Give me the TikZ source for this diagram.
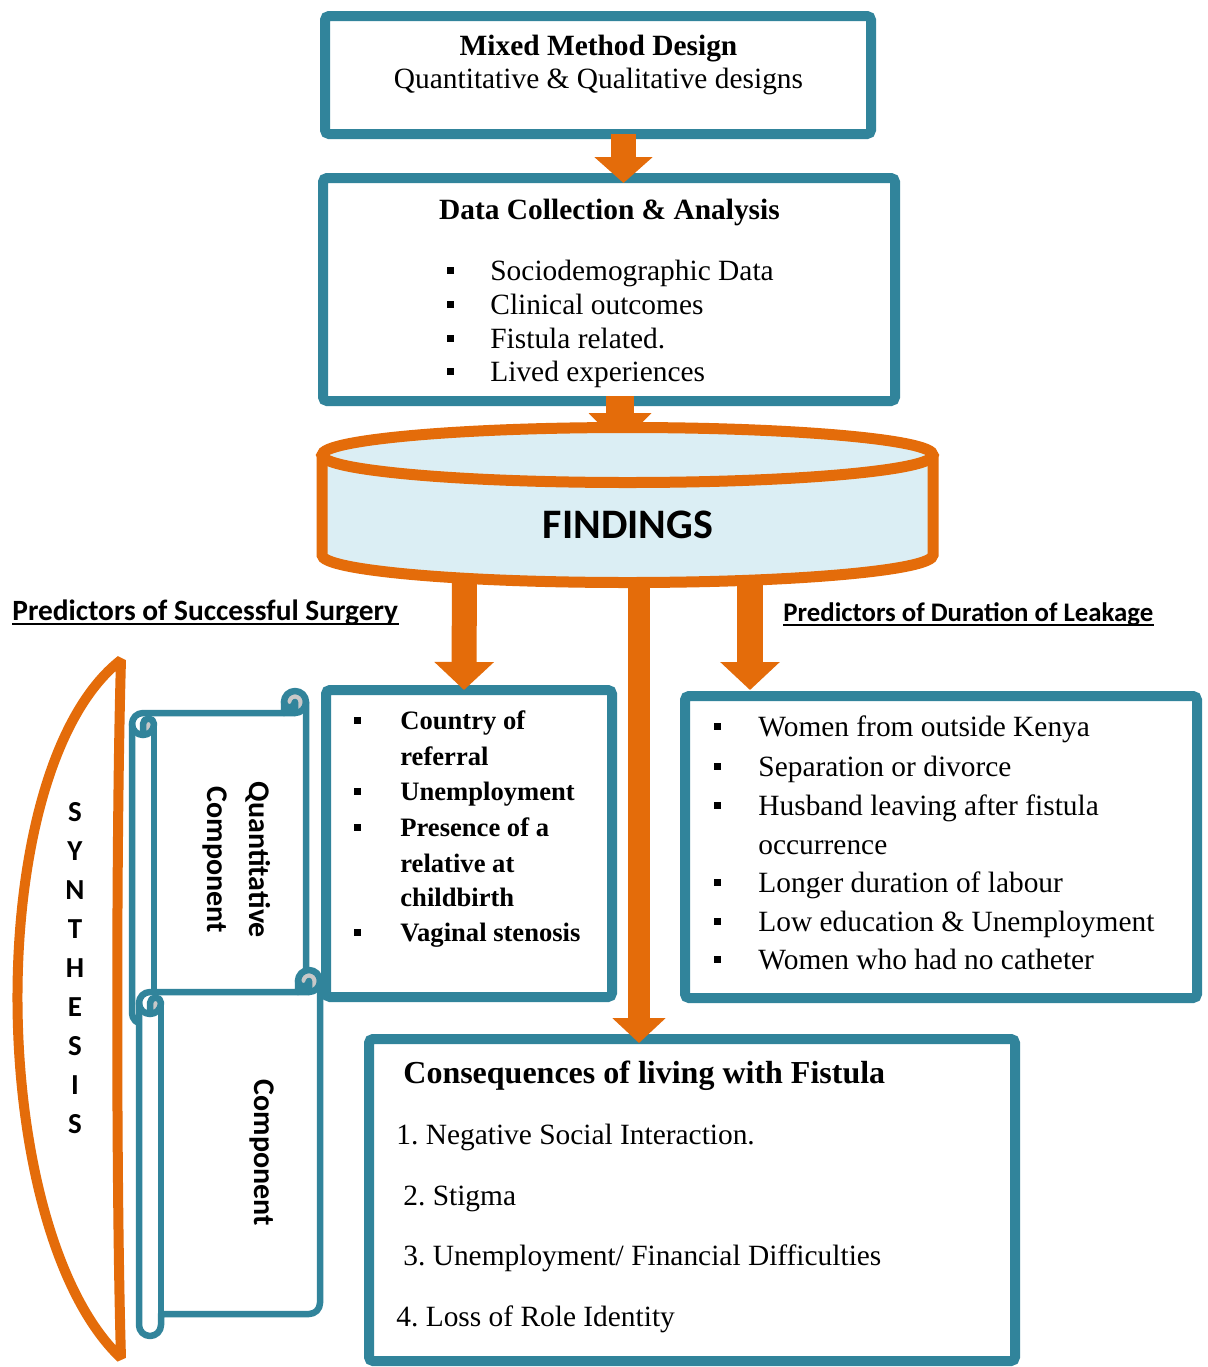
\documentclass[tikz,border=0pt]{standalone}
\usepackage{fontspec}
\setmainfont{Liberation Serif}
\newfontfamily\labelsans{Carlito}
\usetikzlibrary{arrows.meta}
\frenchspacing
\definecolor{tealline}{HTML}{31849B}
\definecolor{orangefill}{HTML}{E46C0A}
\definecolor{cylfill}{HTML}{DBEEF4}
\definecolor{curlgray}{HTML}{C8C8C8}

% horizontal scroll: left x, top y, right x, bottom y (roll size 22)
\newcommand\drawscroll[4]{%
  \pgfmathsetmacro\sL{#1}\pgfmathsetmacro\sT{#2}%
  \pgfmathsetmacro\sR{#3}\pgfmathsetmacro\sB{#4}%
  \pgfmathsetmacro\yA{\sT+33}\pgfmathsetmacro\yB{\sT+44}%
  \pgfmathsetmacro\yC{\sB-22}\pgfmathsetmacro\yD{\sB-11}\pgfmathsetmacro\yE{\sB-33}%
  \pgfmathsetmacro\xA{\sR-22}\pgfmathsetmacro\xB{\sR-11}%
  \pgfmathsetmacro\lA{\sL+11}\pgfmathsetmacro\lB{\sL+22}%
  \pgfmathsetmacro\tA{\sT+11}\pgfmathsetmacro\tB{\sT+22}%
  \path[fill=white] (\sL,\yA) arc[start angle=180,end angle=270,radius=11]
    -- (\xA,\tB) -- (\xA,\tA) arc[start angle=180,end angle=360,radius=11]
    -- (\sR,\yE) arc[start angle=0,end angle=90,radius=11]
    -- (\lB,\yC) -- (\lB,\yD) arc[start angle=0,end angle=180,radius=11] -- cycle;
  \fill[curlgray] (\lA,\yB) arc[start angle=90,end angle=0,radius=11]
    arc[start angle=0,end angle=-180,radius=5.5] -- cycle;
  \fill[curlgray] (\xB,\tB) arc[start angle=90,end angle=-180,radius=11]
    arc[start angle=180,end angle=0,radius=5.5] -- cycle;
  \draw[scrollline] (\sL,\yA) arc[start angle=180,end angle=270,radius=11]
    -- (\xA,\tB) -- (\xA,\tA) arc[start angle=180,end angle=360,radius=11]
    -- (\sR,\yE) arc[start angle=0,end angle=90,radius=11]
    -- (\lB,\yC) -- (\lB,\yD) arc[start angle=0,end angle=180,radius=11] -- cycle;
  \draw[scrollline] (\xA,\tB) -- (\xB,\tB) arc[start angle=90,end angle=0,radius=11];
  \draw[scrollline] (\xB,\tB) -- (\xB,\tA) arc[start angle=0,end angle=180,radius=5.5];
  \draw[scrollline] (\lA,\yB) -- (\lA,\yA) arc[start angle=180,end angle=360,radius=5.5]
    arc[start angle=0,end angle=180,radius=11];
  \draw[scrollline] (\lB,\yA) -- (\lB,\yC);
}

\begin{document}
\begin{tikzpicture}[x=0.5pt, y=-0.5pt,
  box/.style={rectangle, draw=tealline, line width=5pt, fill=white,
    rounded corners=2pt, inner sep=0pt, outer sep=0pt},
  scrollline/.style={draw=tealline, line width=3.25pt, line join=round, line cap=round},
  flow/.style n args={3}{draw=orangefill, line width=#1,
    -{Triangle[width=#2, length=#3]}},
  cylline/.style={draw=orangefill, line width=5.5pt},
  serif/.style={font=\fontsize{14.7}{17}\selectfont, inner sep=0pt, anchor=base west},
  serifb/.style={serif, font=\fontsize{14.7}{17}\selectfont\bfseries},
  serifbs/.style={serif, font=\fontsize{13.3}{16}\selectfont\bfseries},
  titleb/.style={serif, font=\fontsize{16}{19}\selectfont\bfseries},
  bullet/.style={rectangle, fill=black, minimum size=3.5pt, inner sep=0pt},
  lbl/.style={font=\labelsans\bfseries\fontsize{14}{17}\selectfont, inner sep=0pt, anchor=base west},
  rot/.style={font=\labelsans\bfseries\fontsize{15}{18}\selectfont, inner sep=0pt, rotate=-90},
]
\fill[white] (0,0) rectangle (1208,1367);
\useasboundingbox (0,0) rectangle (1208,1367);

% synthesis bracket
\draw[orangefill, line width=5pt, fill=white, line join=bevel]
  (121,660) .. controls (-20,770) and (-14,1230) .. (121,1358)
  .. controls (116,1190) and (116,830) .. cycle;
\node[font=\labelsans\bfseries\fontsize{14.5}{19.55}\selectfont, align=center, inner sep=0pt]
  (synth) at (75,968) {S\\Y\\N\\T\\H\\E\\S\\I\\S};

% scrolls
\drawscroll{132}{691}{306}{1024}
\drawscroll{139}{970}{320}{1336}
\node[rot] (q1) at (258,860) {Quantitative};
\node[rot] (q2) at (215,860) {Component};
\node[rot] (q3) at (262,1153) {Component};

% boxes
\node[box, minimum width=273pt, minimum height=59pt] (b1) at (598,75) {};
\node[box, minimum width=286pt, minimum height=111.5pt] (b2) at (609,289.5) {};
\node[box, minimum width=143pt, minimum height=153.5pt] (bL) at (469,843.5) {};
\node[box, minimum width=256pt, minimum height=151pt] (bR) at (941,847) {};
\node[box, minimum width=323pt, minimum height=161pt] (bB) at (692,1200) {};

% arrow anchors inside the cylinder
\coordinate (findTop) at (620,445);
\coordinate (cylL) at (464.5,560);
\coordinate (cylM) at (639,560);
\coordinate (cylR) at (750,560);

% arrows
\draw[flow={12.5pt}{28.5pt}{13pt}] ([xshift=12.75pt]b1.south) -- ([xshift=7.25pt,yshift=-2.5pt]b2.north);
\draw[flow={14pt}{30.5pt}{16pt}] ([xshift=5.5pt,yshift=2.5pt]b2.south) -- (findTop);
\draw[flow={12.5pt}{29pt}{14pt}] (cylL) -- ([xshift=-2.5pt]bL.north);
\draw[flow={13pt}{29pt}{14pt}] (cylR) -- ([xshift=-95.5pt,yshift=3pt]bR.north);
\draw[flow={11pt}{26pt}{12.5pt}] (cylM) -- ([xshift=-26.5pt,yshift=-2pt]bB.north);

% findings cylinder
\draw[cylline, fill=cylfill] (322,455) -- (322,555)
  arc[start angle=180,end angle=0,x radius=305.5,y radius=27.5] -- (933,455);
\draw[cylline, fill=cylfill] (627.5,455) ellipse[x radius=305.5, y radius=27.5];
\node[font=\labelsans\bfseries\fontsize{21}{25}\selectfont, inner sep=0pt] (find) at (628,525) {FINDINGS};

% box texts
\node[serifb, anchor=base] (t1) at (598.5,55) {Mixed Method Design};
\node[serif, anchor=base] (t2) at (598.5,88) {Quantitative \& Qualitative designs};

\node[serifb, anchor=base] (t3) at (609.5,219) {Data Collection \& Analysis};
\node[bullet] (d1) at (450,270) {};
\node[bullet] (d2) at (450,304) {};
\node[bullet] (d3) at (450,338) {};
\node[bullet] (d4) at (450,371) {};
\node[serif] (dt1) at (490,280) {Sociodemographic Data};
\node[serif] (dt2) at (490,314) {Clinical outcomes};
\node[serif] (dt3) at (490,348) {Fistula related.};
\node[serif] (dt4) at (490,381) {Lived experiences};

\node[bullet] (l1) at (357,720) {};
\node[bullet] (l2) at (357,791) {};
\node[bullet] (l3) at (357,827) {};
\node[bullet] (l4) at (357,932) {};
\node[serifbs] (lt1) at (400,729) {Country of};
\node[serifbs] (lt2) at (400,765) {referral};
\node[serifbs] (lt3) at (400,800) {Unemployment};
\node[serifbs] (lt4) at (400,836) {Presence of a};
\node[serifbs] (lt5) at (400,872) {relative at};
\node[serifbs] (lt6) at (400,906) {childbirth};
\node[serifbs] (lt7) at (400,941) {Vaginal stenosis};

\node[bullet] (r1) at (717,726) {};
\node[bullet] (r2) at (717,766) {};
\node[bullet] (r3) at (717,805) {};
\node[bullet] (r4) at (717,882) {};
\node[bullet] (r5) at (717,921) {};
\node[bullet] (r6) at (717,959) {};
\node[serif] (rt1) at (758,736) {Women from outside Kenya};
\node[serif] (rt2) at (758,776) {Separation or divorce};
\node[serif] (rt3) at (758,815) {Husband leaving after fistula};
\node[serif] (rt4) at (758,854) {occurrence};
\node[serif] (rt5) at (758,892) {Longer duration of labour};
\node[serif] (rt6) at (758,931) {Low education \& Unemployment};
\node[serif] (rt7) at (758,969) {Women who had no catheter};

\node[titleb] (ct) at (403,1083) {Consequences of living with Fistula};
\node[serif] (c1) at (396,1144) {1. Negative Social Interaction.};
\node[serif] (c2) at (403,1205) {2. Stigma};
\node[serif] (c3) at (403,1265) {3. Unemployment/ Financial Difficulties};
\node[serif] (c4) at (396,1326) {4. Loss of Role Identity};

% section labels
\node[lbl, font=\labelsans\bfseries\fontsize{14.7}{17}\selectfont] (pl) at (12,620) {Predictors of Successful Surgery};
\node[lbl, font=\labelsans\bfseries\fontsize{13.4}{16}\selectfont] (pr) at (783,621) {Predictors of Duration of Leakage};
\draw[line width=1pt] ([yshift=-2.2pt]pl.base west) -- ([yshift=-2.2pt]pl.base east);
\draw[line width=1pt] ([yshift=-2.2pt]pr.base west) -- ([yshift=-2.2pt]pr.base east);
\end{tikzpicture}
\end{document}
